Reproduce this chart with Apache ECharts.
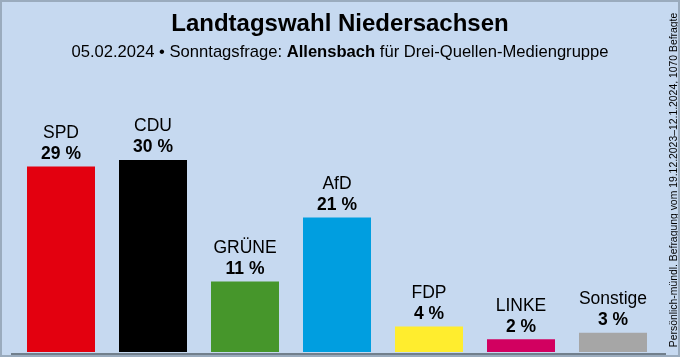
<!DOCTYPE html>
<html><head><meta charset="utf-8">
<script src="https://cdn.jsdelivr.net/npm/echarts@6/dist/echarts.min.js"></script>
<style>html,body{margin:0;padding:0;background:#c6d9f0}#c{width:680px;height:357px;box-sizing:border-box;border:2px solid #9aabbd}</style>
</head><body><div id="c"></div>
<script>
const categories = ['SPD','CDU','GRÜNE','AfD','FDP','LINKE','Sonstige'];
const values = [29,30,11,21,4,2,3];
const colors = ['#e3000f','#000000','#46962b','#009ee0','#ffed2e','#d20060','#a6a6a6'];
const titleText = 'Landtagswahl Niedersachsen';
const sideNote = 'Persönlich-mündl. Befragung vom 19.12.2023–12.1.2024, 1070 Befragte';

const chart = echarts.init(document.getElementById('c'));
const F = 'Liberation Sans, Arial, sans-serif';
chart.setOption({
  backgroundColor: '#c6d9f0',
  animation: false,
  title: [{
    text: titleText, left: 'center', top: 5,
    textStyle: {fontFamily: F, fontSize: 24, fontWeight: 'bold', color: '#000'}
  },{
    text: '{n|05.02.2024 • Sonntagsfrage: }{b|Allensbach}{n| für Drei-Quellen-Mediengruppe}',
    left: 'center', top: 37,
    textStyle: {fontWeight: 'normal', fontSize: 16.6, rich: {
      n: {fontFamily: F, fontSize: 16.6, color: '#000', fontWeight: 'normal'},
      b: {fontFamily: F, fontSize: 16.6, color: '#000', fontWeight: 'bold'}
    }}
  }],
  graphic: [{
    type: 'text', rotation: Math.PI/2, x: 672, y: 178,
    style: {text: sideNote, font: '10.4px Liberation Sans, Arial, sans-serif', fill: '#000', align: 'center', verticalAlign: 'middle'}
  },{
    type: 'line', shape: {x1: 9, y1: 352, x2: 664, y2: 352},
    style: {stroke: '#55606b', lineWidth: 1.5}
  }],
  grid: {left: 13, right: 19, top: 158, bottom: 3, containLabel: false},
  xAxis: {type: 'category', data: categories, axisLine: {show: false}, axisTick: {show: false}, axisLabel: {show: false}},
  yAxis: {type: 'value', min: 0, max: 30, show: false, splitLine: {show: false}},
  series: [{
    type: 'bar', barWidth: 68,
    data: values.map((v,i) => ({value: v, itemStyle: {color: colors[i]}})),
    label: {
      show: true, position: 'top', distance: 2,
      formatter: p => '{n|' + p.name + '}\n{v|' + p.value + ' %}',
      rich: {
        n: {fontFamily: F, fontSize: 17.5, color: '#000', lineHeight: 21, align: 'center'},
        v: {fontFamily: F, fontSize: 17.5, fontWeight: 'bold', color: '#000', lineHeight: 21, align: 'center'}
      }
    }
  }]
});
</script></body></html>
